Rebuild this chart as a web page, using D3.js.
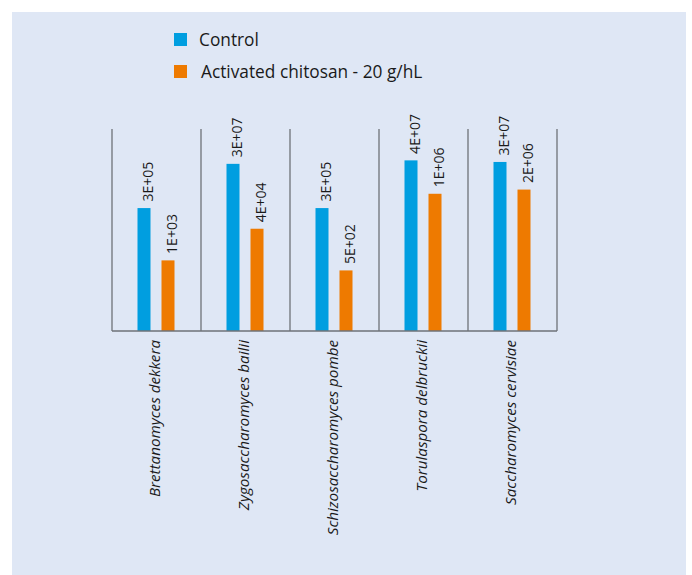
<!DOCTYPE html>
<html>
<head>
<meta charset="utf-8">
<script src="https://cdn.jsdelivr.net/npm/d3@7"></script>
<style>
  body { margin: 0; background: #ffffff; }
  svg { display: block; }
</style>
</head>
<body>
<svg id="drawing_region"></svg>
<script>
var Species = ['Brettanomyces dekkera', 'Zygosaccharomyces bailii', 'Schizosaccharomyces pombe',
    'Torulaspora delbruckii', 'Saccharomyces cervisiae'];
var SeriesNames = ['Control', 'Activated chitosan - 20 g/hL'];
var Control = [3e5, 2.8e7, 3e5, 4e7, 3.4e7];
var Chitosan = [1.4e3, 3.6e4, 5e2, 1.3e6, 2e6];

var Config = {
    parent: '#drawing_region',
    width: 692,
    height: 575,
    plot: { left: 112, right: 557, top: 129, bottom: 331 },
    colors: ['#009ee0', '#ee7a00']
};

class BarChart {
    constructor(config) {
        this.config = config;
        this.init();
    }

    init() {
        let self = this;
        let c = self.config;
        self.svg = d3.select(c.parent)
            .attr('width', c.width)
            .attr('height', c.height);

        // panel background
        self.svg.append('rect')
            .attr('x', 12).attr('y', 12)
            .attr('width', 674).attr('height', c.height - 12)
            .attr('fill', '#dfe7f5');

        self.xScale = d3.scaleBand()
            .domain(Species)
            .range([c.plot.left, c.plot.right]);
        self.yScale = d3.scaleLog()
            .domain([1, 1e9])
            .range([c.plot.bottom, c.plot.top]);

        self.chart = self.svg.append('g');
    }

    update() {
        let self = this;
        let c = self.config;
        let x = self.xScale, y = self.yScale;
        let barW = 13;
        let offsets = [-19, 5];
        let fmt = v => {
            let e = Math.floor(Math.log10(v));
            let m = Math.round(v / Math.pow(10, e));
            if (m === 10) { m = 1; e += 1; }
            return m + 'E+' + String(e).padStart(2, '0');
        };

        // band separators
        let edges = Species.map(d => x(d)).concat([c.plot.right]);
        self.chart.selectAll('line.sep')
            .data(edges)
            .join('line')
            .attr('class', 'sep')
            .attr('x1', d => d).attr('x2', d => d)
            .attr('y1', c.plot.top).attr('y2', c.plot.bottom)
            .attr('stroke', '#6e7277')
            .attr('stroke-width', 1.3);

        [Control, Chitosan].forEach((vals, si) => {
            let g = self.chart.append('g');
            g.selectAll('rect')
                .data(vals)
                .join('rect')
                .attr('x', (d, i) => x(Species[i]) + x.bandwidth() / 2 + offsets[si])
                .attr('y', d => y(d))
                .attr('width', barW)
                .attr('height', d => c.plot.bottom - y(d))
                .attr('fill', c.colors[si]);

            g.selectAll('text')
                .data(vals)
                .join('text')
                .attr('transform', (d, i) => {
                    let cx = x(Species[i]) + x.bandwidth() / 2 + offsets[si] + barW / 2 + 4;
                    return `translate(${cx}, ${y(d) - 6.5}) rotate(-90)`;
                })
                .attr('dy', '0.35em')
                .attr('text-anchor', 'start')
                .attr('font-family', 'Open Sans')
                .attr('font-size', 14)
                .attr('fill', '#1a1a1a')
                .text(d => fmt(d));
        });

        // baseline
        self.chart.append('line')
            .attr('x1', c.plot.left).attr('x2', c.plot.right)
            .attr('y1', c.plot.bottom).attr('y2', c.plot.bottom)
            .attr('stroke', '#6e7277')
            .attr('stroke-width', 1.3);

        // category labels
        self.chart.selectAll('text.cat')
            .data(Species)
            .join('text')
            .attr('class', 'cat')
            .attr('transform', d => `translate(${x(d) + x.bandwidth() / 2 - 2}, 340) rotate(-90)`)
            .attr('dy', '0.35em')
            .attr('text-anchor', 'end')
            .attr('font-family', 'Open Sans')
            .attr('font-style', 'italic')
            .attr('font-size', 15.2)
            .attr('fill', '#1a1a1a')
            .text(d => d);

        // legend
        let legend = self.svg.append('g');
        SeriesNames.forEach((name, i) => {
            legend.append('rect')
                .attr('x', 174).attr('y', 33 + i * 32)
                .attr('width', 13).attr('height', 13)
                .attr('fill', c.colors[i]);
            legend.append('text')
                .attr('x', i === 0 ? 199 : 201)
                .attr('y', 39.5 + i * 32)
                .attr('dy', '0.35em')
                .attr('font-family', 'Open Sans')
                .attr('font-size', 17.3)
                .attr('fill', '#1a1a1a')
                .text(name);
        });
    }
}

const bar_chart = new BarChart(Config);
bar_chart.update();
</script>
</body>
</html>
